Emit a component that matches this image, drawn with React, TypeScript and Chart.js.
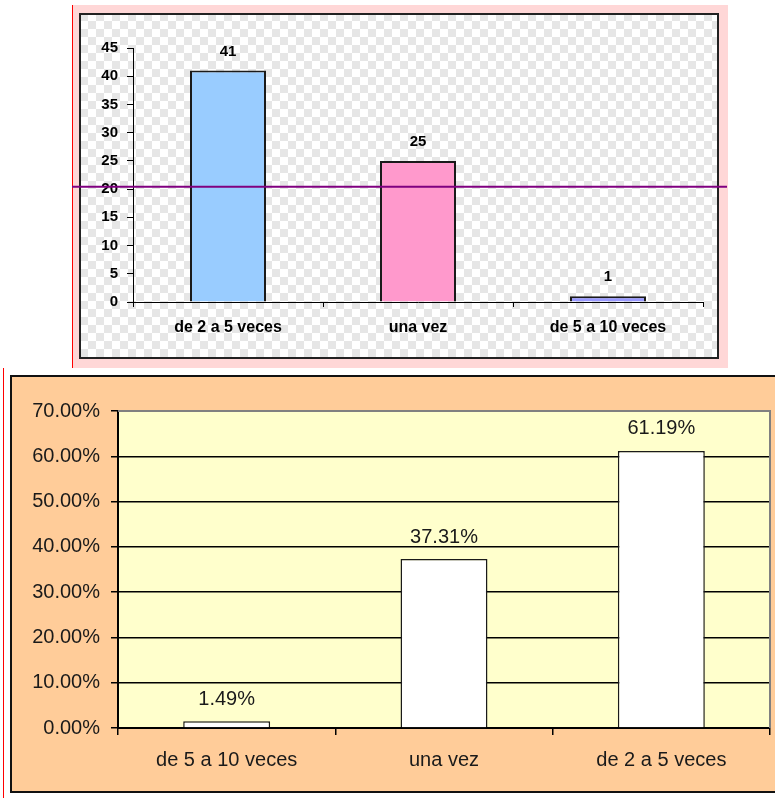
import React, { useEffect, useRef } from "react";
import { Chart, registerables } from "chart.js";

Chart.register(...registerables);

// Upper chart: number of answers per frequency
const countCategories = ["de 2 a 5 veces", "una vez", "de 5 a 10 veces"];
const countValues = [41, 25, 1];
const countColors = ["#99CCFF", "#FF99CC", "#9999FF"];
const countMax = 45;
const countStep = 5;
const referenceLevel = 20.4;

// Lower chart: share of answers per frequency (percent)
const shareCategories = ["de 5 a 10 veces", "una vez", "de 2 a 5 veces"];
const shareValues = [1.49, 37.31, 61.19];
const shareMax = 70;
const shareStep = 10;

const FONT = "'Liberation Sans', Arial, sans-serif";

function makeChecker(ctx: CanvasRenderingContext2D) {
  const tile = document.createElement("canvas");
  tile.width = 16;
  tile.height = 16;
  const g = tile.getContext("2d")!;
  g.fillStyle = "#ffffff";
  g.fillRect(0, 0, 16, 16);
  g.fillStyle = "#e6e6e6";
  g.fillRect(0, 0, 8, 8);
  g.fillRect(8, 8, 8, 8);
  return ctx.createPattern(tile, "repeat");
}

const countFrame = {
  id: "countFrame",
  beforeDraw(chart: any) {
    const { ctx, width, height } = chart;
    ctx.save();
    ctx.fillStyle = "#FFD7D7";
    ctx.fillRect(0, 0, width, height);
    ctx.strokeStyle = "#FF0000";
    ctx.lineWidth = 1;
    ctx.beginPath();
    ctx.moveTo(0.5, 0);
    ctx.lineTo(0.5, height);
    ctx.stroke();
    const pat = makeChecker(ctx);
    ctx.fillStyle = pat || "#f2f2f2";
    ctx.fillRect(8, 9, width - 18, height - 19);
    ctx.strokeStyle = "#222";
    ctx.lineWidth = 2;
    ctx.strokeRect(8, 9, width - 18, height - 19);
    ctx.restore();
  },
  afterDraw(chart: any) {
    const { ctx, width } = chart;
    const meta = chart.getDatasetMeta(0);
    ctx.save();
    ctx.fillStyle = "#000";
    ctx.font = `bold 15px ${FONT}`;
    ctx.textAlign = "center";
    ctx.textBaseline = "middle";
    meta.data.forEach((bar: any, i: number) => {
      ctx.fillText(String(countValues[i]), bar.x, bar.y - 19);
    });
    const y = chart.scales.y.getPixelForValue(referenceLevel);
    ctx.strokeStyle = "#800080";
    ctx.lineWidth = 2;
    ctx.beginPath();
    ctx.moveTo(0, y);
    ctx.lineTo(width - 1, y);
    ctx.stroke();
    ctx.restore();
  },
};

const shareFrame = {
  id: "shareFrame",
  beforeDraw(chart: any) {
    const { ctx, width, height, chartArea } = chart;
    ctx.save();
    ctx.fillStyle = "#ffffff";
    ctx.fillRect(0, 0, width, height);
    ctx.strokeStyle = "#FF0000";
    ctx.lineWidth = 1;
    ctx.beginPath();
    ctx.moveTo(3.5, 0);
    ctx.lineTo(3.5, height);
    ctx.stroke();
    ctx.fillStyle = "#FFCC99";
    ctx.fillRect(11, 8, width, height - 14);
    ctx.strokeStyle = "#111";
    ctx.lineWidth = 2;
    ctx.strokeRect(11, 8, width + 10, height - 14);
    ctx.fillStyle = "#FFFFCC";
    ctx.fillRect(chartArea.left, chartArea.top, chartArea.right - chartArea.left, chartArea.bottom - chartArea.top);
    ctx.restore();
  },
  afterDraw(chart: any) {
    const { ctx, chartArea } = chart;
    const meta = chart.getDatasetMeta(0);
    ctx.save();
    ctx.strokeStyle = "#808080";
    ctx.lineWidth = 2;
    ctx.beginPath();
    ctx.moveTo(chartArea.left, chartArea.top);
    ctx.lineTo(chartArea.right, chartArea.top);
    ctx.lineTo(chartArea.right, chartArea.bottom);
    ctx.stroke();
    ctx.fillStyle = "#1a1a1a";
    ctx.font = `20px ${FONT}`;
    ctx.textAlign = "center";
    ctx.textBaseline = "middle";
    meta.data.forEach((bar: any, i: number) => {
      ctx.fillText(`${shareValues[i].toFixed(2)}%`, bar.x, bar.y - 22);
    });
    ctx.restore();
  },
};

function CountChart() {
  const ref = useRef<HTMLCanvasElement>(null);
  useEffect(() => {
    const chart = new Chart(ref.current!, {
      type: "bar",
      data: {
        labels: countCategories,
        datasets: [
          {
            data: countValues,
            backgroundColor: countColors,
            borderColor: "#1a1a1a",
            borderWidth: 2,
            categoryPercentage: 1,
            barPercentage: 0.4,
          },
        ],
      },
      options: {
        responsive: false,
        animation: false,
        layout: { padding: { left: 0, right: 25, top: 43, bottom: 0 } },
        plugins: { legend: { display: false }, tooltip: { enabled: false } },
        scales: {
          x: {
            afterFit: (s: any) => {
              s.height = 66;
            },
            grid: { display: true, drawOnChartArea: false, tickLength: 5, color: "#000", offset: true },
            border: { display: true, color: "#000", width: 1 },
            ticks: {
              color: "#000",
              font: { family: FONT, size: 16, weight: "bold" },
              padding: 11,
              maxRotation: 0,
              autoSkip: false,
            },
          },
          y: {
            min: 0,
            max: countMax,
            afterFit: (s: any) => {
              s.width = 61;
            },
            grid: { display: true, drawOnChartArea: false, tickLength: 6, color: "#000" },
            border: { display: true, color: "#000", width: 1 },
            ticks: {
              stepSize: countStep,
              color: "#000",
              font: { family: FONT, size: 15, weight: "bold" },
              padding: 9,
            },
          },
        },
      },
      plugins: [countFrame],
    } as any);
    return () => chart.destroy();
  }, []);
  return (
    <canvas
      ref={ref}
      width={656}
      height={363}
      style={{ position: "absolute", left: 72, top: 5, width: 656, height: 363 }}
    />
  );
}

function ShareChart() {
  const ref = useRef<HTMLCanvasElement>(null);
  useEffect(() => {
    const chart = new Chart(ref.current!, {
      type: "bar",
      data: {
        labels: shareCategories,
        datasets: [
          {
            data: shareValues,
            backgroundColor: "#ffffff",
            borderColor: "#1a1a1a",
            borderWidth: 1.5,
            categoryPercentage: 1,
            barPercentage: 0.4,
          },
        ],
      },
      options: {
        responsive: false,
        animation: false,
        layout: { padding: { left: 0, right: 5, top: 43, bottom: 0 } },
        plugins: { legend: { display: false }, tooltip: { enabled: false } },
        scales: {
          x: {
            afterFit: (s: any) => {
              s.height = 70;
            },
            grid: { display: true, drawOnChartArea: false, tickLength: 7, color: "#000", lineWidth: 1.5, offset: true },
            border: { display: true, color: "#000", width: 2 },
            ticks: {
              color: "#1a1a1a",
              font: { family: FONT, size: 20 },
              padding: 13,
              maxRotation: 0,
              autoSkip: false,
            },
          },
          y: {
            min: 0,
            max: shareMax,
            afterFit: (s: any) => {
              s.width = 118;
            },
            grid: { display: true, drawOnChartArea: true, tickLength: 7, color: "#000", lineWidth: 1.5 },
            border: { display: true, color: "#000", width: 2 },
            ticks: {
              stepSize: shareStep,
              color: "#1a1a1a",
              font: { family: FONT, size: 20 },
              padding: 11,
              callback: (v: any) => `${Number(v).toFixed(2)}%`,
            },
          },
        },
      },
      plugins: [shareFrame],
    } as any);
    return () => chart.destroy();
  }, []);
  return (
    <canvas
      ref={ref}
      width={775}
      height={430}
      style={{ position: "absolute", left: 0, top: 368, width: 775, height: 430 }}
    />
  );
}

export default function App() {
  return (
    <div style={{ position: "absolute", left: 0, top: 0, width: 775, height: 798, overflow: "hidden", background: "#fff" }}>
      <CountChart />
      <ShareChart />
    </div>
  );
}
